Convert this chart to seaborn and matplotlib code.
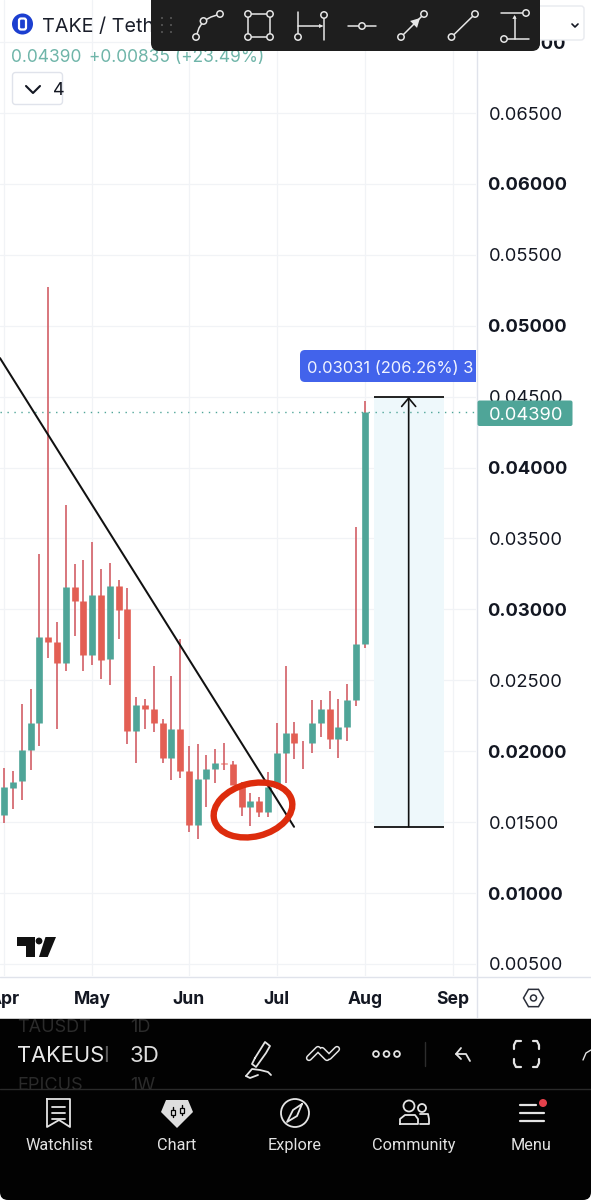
import numpy as np
import pandas as pd
import matplotlib
matplotlib.use("Agg")
import matplotlib.pyplot as plt
import seaborn as sns
from matplotlib.patches import Rectangle, FancyBboxPatch, Ellipse, Circle, Polygon, RegularPolygon

# ---------- data ----------
candle_open = [.01551,.01742,.01789,.02010,.02196,.02802,.02767,.02623,.03159,.03056,.02675,.03103,.02649,.03164,.03000,.02142,.02323,.02295,.02196,.01953,.02158,.01860,.01481,.01803,.01874,.01916,.01907,.01763,.01608,.01650,.01568,.01749,.01984,.02125,.02059,.02055,.02196,.02295,.02083,.02168,.02360,.02753]
candle_close = [.01745,.01784,.02010,.02200,.02802,.02767,.02623,.03155,.03056,.02675,.03103,.02644,.03164,.02995,.02142,.02323,.02295,.02196,.01949,.02158,.01860,.01481,.01803,.01874,.01914,.01909,.01763,.01608,.01650,.01568,.01749,.01984,.02125,.02055,.02055,.02200,.02295,.02083,.02168,.02360,.02753,.04390]
candle_high = [.01879,.01860,.02332,.02436,.03390,.05270,.02912,.03735,.03319,.03347,.03476,.03282,.03328,.03206,.03148,.02379,.02365,.02600,.02224,.02529,.02788,.02038,.02048,.01972,.02013,.02059,.01928,.01784,.01702,.01674,.01853,.02200,.02600,.02207,.02073,.02360,.02360,.02422,.02369,.02471,.03582,.04468]
candle_low = [.01491,.01590,.01655,.01867,.02036,.02654,.02154,.02567,.02812,.02567,.02607,.02506,.02466,.02788,.02050,.01914,.02154,.02132,.01918,.01796,.01808,.01432,.01380,.01604,.01777,.01867,.01763,.01544,.01472,.01537,.01537,.01731,.01773,.01942,.01874,.01989,.02097,.02013,.01949,.02073,.02320,.02727]
price_ticks = [.005,.010,.015,.020,.025,.030,.035,.040,.045,.050,.055,.060,.065,.070]
month_labels = ["Apr","May","Jun","Jul","Aug","Sep"]
month_positions = [0,10,21,31,41,51]
last_price = .04390
measure_low, measure_high = .01468, .04499
measure_left, measure_mid, measure_right = 42, 46, 50
trend_x = [-0.489, 32.96]
trend_y = [.04772, .01467]
nav_labels = ["Watchlist","Chart","Explore","Community","Menu"]

# ---------- colours ----------
TEAL = "#4fa598"; RED = "#e35f54"; WICK = "#d4656c"; GRID = "#f1f3f6"; INK = "#131722"
sns.set_theme(style="white")
plt.rcParams["font.family"] = ["Inter", "DejaVu Sans"]

fig = plt.figure(figsize=(5.91, 12), dpi=100, facecolor="white")
W, H = 591, 1200
ax = fig.add_axes([0, (H-976)/H, 476/W, 976/H])
idx = np.arange(len(candle_open))
ax.set_xlim(-0.489, 53.66)
ax.set_ylim(.00415, .07297)

for v in price_ticks:
    ax.axhline(v, color=GRID, lw=0.9, zorder=0)
for m in month_positions:
    ax.axvline(m, color=GRID, lw=0.9, zorder=0)

wicks = pd.DataFrame({"i": np.r_[idx, idx], "price": np.r_[candle_low, candle_high]})
sns.lineplot(data=wicks, x="i", y="price", units="i", estimator=None, sort=False,
             color=WICK, linewidth=1.25, solid_capstyle="butt", ax=ax, zorder=2)
kind = ["up" if c >= o else "down" for o, c in zip(candle_open, candle_close)]
bodies = pd.DataFrame({"i": np.r_[idx, idx], "price": np.r_[candle_open, candle_close], "kind": kind*2})
sns.lineplot(data=bodies, x="i", y="price", units="i", hue="kind", estimator=None, sort=False,
             palette={"up": TEAL, "down": RED}, linewidth=4.8, solid_capstyle="butt",
             legend=False, ax=ax, zorder=3)

ax.fill_between([measure_left, measure_right], measure_low, measure_high, color="#eef8fb", lw=0, zorder=1)
ax.plot([measure_left, measure_right], [measure_low]*2, color="#111", lw=1.3, zorder=4, solid_capstyle="butt")
ax.plot([measure_left, measure_right], [measure_high]*2, color="#111", lw=1.3, zorder=4, solid_capstyle="butt")
ax.annotate("", xy=(measure_mid, measure_high), xytext=(measure_mid, measure_low),
            arrowprops=dict(arrowstyle="->,head_length=0.5,head_width=0.42", color="#111", lw=1.2, shrinkA=0, shrinkB=0), zorder=4)
ax.plot(trend_x, trend_y, color="#111", lw=1.45, zorder=5)
ax.axhline(last_price, color=TEAL, lw=1.0, ls=(0, (1, 4)), zorder=4)
ax.set_xlabel(""); ax.set_ylabel(""); ax.set_xticks([]); ax.set_yticks([])
sns.despine(ax=ax, left=True, bottom=True, top=True, right=True)

# ---------- overlay in pixel units ----------
ov = fig.add_axes([0, 0, 1, 1], facecolor="none")
ov.set_xlim(0, W); ov.set_ylim(H, 0); ov.axis("off")
y_px = lambda v: 964 - (v - .005) * 14183
x_px = lambda i: 4.3 + 8.79 * i

ov.plot([476.5, 476.5], [0, 1019], color="#e0e3eb", lw=1.0)
ov.plot([0, 591], [976.5, 976.5], color="#e0e3eb", lw=1.0)
bold_ticks = {.01,.02,.03,.04,.05,.06,.07}
for v in price_ticks:
    b = any(abs(v-t) < 1e-6 for t in bold_ticks)
    ov.text(489 - (1.5 if b else 0), y_px(v), f"{v:.5f}", fontsize=13.2, color=INK, va="center_baseline", ha="left",
            fontweight="bold" if b else "normal")
for m, lab in zip(month_positions, month_labels):
    ov.text(x_px(m), 998, lab, fontsize=12.6, fontweight="bold", color=INK, ha="center", va="center_baseline")

# ellipse
ov.add_patch(Ellipse((253, 810), 80, 53, angle=-14, fill=False, ec="#dd2c0d", lw=4.6, zorder=6))

# price tag
ov.add_patch(FancyBboxPatch((477.5, 400.5), 95, 25.5, boxstyle="round,pad=0,rounding_size=2", fc=TEAL, ec="none", zorder=7))
ov.text(489, 413, "0.04390", fontsize=13.2, color="white", va="center_baseline", zorder=8)

# tooltip
tip = FancyBboxPatch((300, 350), 190, 32, boxstyle="round,pad=0,rounding_size=5", fc="#4263eb", ec="none", zorder=7)
ov.add_patch(tip)
clipper = Rectangle((290, 340), 186, 50, transform=ov.transData)
tip.set_clip_path(clipper)
t = ov.text(307, 367, "0.03031 (206.26%) 3", fontsize=11.9, color="#f0f3ff", va="center_baseline", zorder=8)
t.set_clip_path(clipper); t.set_clip_on(True)

# TV watermark
ov.add_patch(Polygon([(16.7,937),(34.5,937),(34.5,957),(25.7,957),(25.7,946),(16.7,946)], fc="#111", ec="none"))
ov.add_patch(Circle((39,941), 3.4, fc="#111", ec="none"))
ov.add_patch(Polygon([(45.5,937),(56,937),(47.7,957),(39,957)], fc="#111", ec="none"))

# header
ov.add_patch(Circle((22.5, 24), 10.5, fc="#1c3fd0", ec="none"))
ov.add_patch(FancyBboxPatch((19, 18.5), 7, 11, boxstyle="round,pad=0,rounding_size=2", fc="none", ec="white", lw=1.6))
ov.text(42, 25, "TAKE / Tether", fontsize=14.2, color="#1a1e2a", va="center_baseline")
ov.text(11, 55, "0.04390", fontsize=12.5, color="#6fb5a9", va="center_baseline")
ov.text(89, 55, "+0.00835 (+23.49%)", fontsize=12.5, color="#6fb5a9", va="center_baseline")
ov.add_patch(FancyBboxPatch((12.5, 72.5), 50, 32, boxstyle="round,pad=0,rounding_size=3", fc="white", ec="#e0e3eb", lw=1))
ov.plot([26, 33, 40], [86, 93, 86], color=INK, lw=1.5)
ov.text(53, 88.5, "4", fontsize=13, color=INK, ha="left", va="center_baseline")
ov.add_patch(FancyBboxPatch((520, 6), 64, 34, boxstyle="round,pad=0,rounding_size=3", fc="white", ec="#e8eaef", lw=1, zorder=4))
ov.plot([572, 575, 578], [24, 27, 24], color=INK, lw=1.2, zorder=9)

# toolbar
ov.add_patch(FancyBboxPatch((151, -10), 389, 61, boxstyle="round,pad=0,rounding_size=8", fc="#1e1e1e", ec="none", zorder=8))
for gx in (162, 171):
    for gy in (18, 25, 32):
        ov.add_patch(Circle((gx, gy), 1.0, fc="#5a5a5a", ec="none", zorder=9))
tc = "#e6e6e6"
def tl(xs, ys, lw=1.1):
    ov.plot(xs, ys, color=tc, lw=lw, zorder=9, solid_capstyle="round")
def dot(x, y, r=3.2):
    ov.add_patch(Circle((x, y), r, fc="#1e1e1e", ec=tc, lw=1.1, zorder=10))
def head(x, y, dx, dy, s=4):
    n = np.array([-dy, dx])
    ov.add_patch(Polygon([(x, y), (x-dx*s*1.3+n[0]*s*.7, y-dy*s*1.3+n[1]*s*.7), (x-dx*s*1.3-n[0]*s*.7, y-dy*s*1.3-n[1]*s*.7)],
                         fc=tc, ec="none", zorder=10))
tl([196,199,203.5,211,220], [37,28,21,17,14])
for p in [(196,37),(203.5,21),(220,14)]: dot(*p)
tl([248,270,270,248,248], [14,14,37,37,14])
for p in [(248,14),(270,14),(248,37),(270,37)]: dot(*p)
tl([298,298], [12,37]); tl([324,324], [15,40]); tl([298,322], [26,26]); head(323,26,1,0,3); dot(298,37); dot(324,15)
tl([348,376], [26,26]); dot(362,26)
tl([401,424], [37,14]); head(420,18,.707,-.707,7); dot(401,37); dot(424,14)
tl([451.5,475], [37,14]); dot(451.5,37); dot(475,14)
tl([501,526], [13,13]); tl([505,529], [39,39]); tl([514.5,514.5], [39,17]); head(514.5,15,0,-1,3); dot(526,13); dot(504,39)

# settings hexagon
ov.add_patch(RegularPolygon((533.5, 998), 6, radius=10, orientation=np.pi/6, fc="white", ec="#2a2e39", lw=1.1))
ov.add_patch(Circle((533.5, 998), 3, fc="white", ec="#2a2e39", lw=1.1))

# bottom panel
ov.add_patch(Rectangle((0, 1019), W, 100, fc="#020202", ec="none", zorder=5))
ov.add_patch(FancyBboxPatch((0, 1060), W, 140, boxstyle="round,pad=0,rounding_size=8", fc="#020202", ec="none", zorder=5))
ov.text(17, 1025, "TAUSDT", fontsize=13, color="#2b2b2b", va="center_baseline", zorder=6, clip_on=True)
ov.text(130, 1025, "1D", fontsize=13, color="#2b2b2b", va="center_baseline", zorder=6)
ov.text(17, 1083, "EPICUS", fontsize=13, color="#2b2b2b", va="center_baseline", zorder=6)
ov.text(130, 1083, "1W", fontsize=13, color="#2b2b2b", va="center_baseline", zorder=6)
ov.add_patch(Rectangle((0, 1018), W, 1, fc="#c9c9c9", ec="none", zorder=6))
ov.add_patch(Rectangle((100, 1019), 25, 16, fc="#020202", ec="none", zorder=7))
ov.add_patch(Rectangle((100, 1072), 25, 16, fc="#020202", ec="none", zorder=7))
ov.text(17, 1054, "TAKEUS", fontsize=15.8, color="#e8e8e8", va="center_baseline", zorder=8)
ov.text(103, 1054, "I", fontsize=15.8, color="#5a5a5a", va="center_baseline", zorder=8)
ov.text(130, 1054, "3D", fontsize=16, color="#dcdcdc", va="center_baseline", zorder=8)
ov.plot([0, W], [1088.5, 1088.5], color="#2a2a2a", lw=1, zorder=6)

wc = "#e4e4e4"
def wl(xs, ys, lw=1.3):
    ov.plot(xs, ys, color=wc, lw=lw, zorder=8, solid_capstyle="round", solid_joinstyle="round")
def wc_circle(x, y, r, lw=1.3, fc="none"):
    ov.add_patch(Circle((x, y), r, fc=fc, ec=wc, lw=lw, zorder=8))

# pen
wl([255,265,270,266,256,252,255], [1058,1042,1046,1053,1067,1064,1058])
wl([246,252,260,268,271], [1076,1069,1070,1072,1075]); wl([246,250,258], [1076,1078,1075])
# indicators: outlined chevrons
for xs, ys in (([309,318,327], [1058,1049,1058]), ([322,329,337], [1050,1057,1049])):
    ov.plot(xs, ys, color=wc, lw=4.6, zorder=8, solid_capstyle="round", solid_joinstyle="round")
    ov.plot(xs, ys, color="#020202", lw=2.4, zorder=9, solid_capstyle="round", solid_joinstyle="round")
# dots
for x in (376, 386.5, 397): wc_circle(x, 1054, 2.9)
ov.plot([424.5, 424.5], [1042, 1066], color="#2d2d2d", lw=1, zorder=8)
# undo
wl([470,466,456,461], [1061,1054,1054,1048]); wl([456,461], [1054,1059])
# fullscreen
wl([514,514,516,521], [1049,1045,1041,1041], 1.6); wl([533,537,539,539], [1041,1041,1045,1049], 1.6)
wl([514,514,516,521], [1059,1063,1067,1067], 1.6); wl([533,537,539,539], [1067,1067,1063,1059], 1.6)
wl([583,586,591], [1060,1053,1050], 1.0)

# nav
nav_x = [59, 177, 295, 413.5, 531]
for x, lab in zip(nav_x, nav_labels):
    ov.text(x, 1144, lab, fontsize=11.7, color="#e2e2e2", ha="center", va="center_baseline", zorder=8,
            family=["Roboto"])
wl([47,70,70,59,47,47],[1099,1099,1127,1120,1127,1099])
for yy in (1107, 1113, 1119): wl([52,65],[yy,yy])
ov.add_patch(Polygon([(166,1100),(188,1100),(193,1112),(177,1128),(161,1112)], fc="#dedede", ec="none", zorder=8))
for x, (a,b) in zip((172.5,182), ((1107,1117),(1105,1115))):
    ov.plot([x,x],[a,b], color="#020202", lw=1.0, zorder=9)
    ov.add_patch(Rectangle((x-2, a+2.5), 4, 5, fc="#dedede", ec="#020202", lw=.9, zorder=9))
wc_circle(295, 1113, 14)
wl([302,297,287,293,302],[1104,1116,1122,1110,1104])
wc_circle(409, 1106, 5.5); wc_circle(422, 1108, 4)
wl([400,400,405,415,418,418,400],[1124,1119,1115,1115,1119,1124,1124])
wl([420,428,429,429,420],[1114,1114,1119,1124,1124])
for yy, x0, x1 in ((1105,520,536),(1113,520,544),(1121,520,544)): wl([x0,x1],[yy,yy],1.6)
ov.add_patch(Circle((543, 1103), 4, fc="#e5414b", ec="none", zorder=9))

fig.savefig("out.png", dpi=100)
